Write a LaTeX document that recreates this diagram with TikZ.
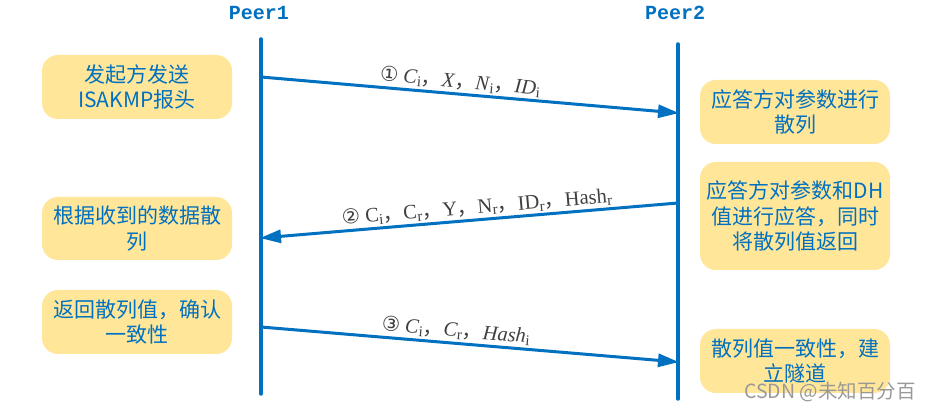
\documentclass[tikz,border=0pt]{standalone}
\usepackage{fontspec}
\setmainfont{Liberation Serif}
\newfontfamily\cjk{Noto Sans CJK SC}
\newfontfamily\dv{DejaVu Sans}
\newfontfamily\monob{Liberation Mono}
\usetikzlibrary{arrows.meta}
\definecolor{lblue}{RGB}{0,112,192}
\definecolor{byellow}{RGB}{255,230,153}
\definecolor{lgray}{RGB}{64,64,64}
\newcommand{\sbi}[1]{\raisebox{-0.3ex}{\fontsize{15}{15}\selectfont\upshape #1}}
\newcommand{\cm}{{\cjk ，}}
\begin{document}
\begin{tikzpicture}[x=1pt,y=-1pt,
  box/.style={fill=byellow, rounded corners=16pt, minimum width=190pt, align=center,
    text=lblue, font=\cjk\fontsize{21}{25.5}\selectfont, inner sep=0pt},
  life/.style={draw=lblue, line width=3.5pt, line cap=round},
  msg/.style={draw=lblue, line width=3pt, -{Triangle[length=21pt,width=13pt]}, shorten >=-1pt},
  lbl/.style={text=lgray, font=\fontsize{20.5}{22}\selectfont, sloped, above, inner sep=2pt},
  peer/.style={text=lblue, font=\monob\bfseries\fontsize{20}{22}\selectfont}]
\useasboundingbox (0,0) rectangle (932,411);
\fill[white] (0,0) rectangle (932,411);
% peers
\node[peer] (peer1) at (259,13) {Peer1};
\node[peer] (peer2) at (675,13) {Peer2};
\coordinate (p1t) at (261,39);
\coordinate (p1b) at (261,394);
\coordinate (p2t) at (678,44);
\coordinate (p2b) at (678,399);
\draw[life] (p1t) -- (p1b);
\draw[life] (p2t) -- (p2b);
% boxes
\node[box, minimum height=64pt] (l1) at (137,87) {发起方发送\\ISAKMP报头};
\node[box, minimum height=63pt] (l2) at (137,228.5) {根据收到的数据散\\列};
\node[box, minimum height=64pt] (l3) at (137,322) {返回散列值，确认\\一致性};
\node[box, minimum height=64pt] (r1) at (795,112) {应答方对参数进行\\散列};
\node[box, minimum height=108pt] (r2) at (795,216) {应答方对参数和DH\\值进行应答，同时\\将散列值返回};
\node[box, minimum height=64pt] (r3) at (795,361) {散列值一致性，建\\立隧道};
% messages
\coordinate (m1s) at (261,77);
\coordinate (m1e) at (678,113);
\coordinate (m2s) at (678,203);
\coordinate (m2e) at (261,238);
\coordinate (m3s) at (261,327);
\coordinate (m3e) at (678,362);
\draw[msg] (m1s) -- node[lbl, pos=0.475] {{\dv ①} \textit{C}\sbi{i}\cm\textit{X}\cm\textit{N}\sbi{i}\cm\textit{ID}\sbi{i}} (m1e);
\draw[msg] (m2s) -- node[lbl, pos=0.48, allow upside down=false] {{\dv ②} C\sbi{i}\cm C\sbi{r}\cm Y\cm N\sbi{r}\cm ID\sbi{r}\cm Hash\sbi{r}} (m2e);
\draw[msg] (m3s) -- node[lbl, pos=0.465] {{\dv ③} \textit{C}\sbi{i}\cm\textit{C}\sbi{r}\cm\textit{Hash}\sbi{i}} (m3e);
% watermark
\node[text=gray!80, font=\cjk\fontsize{19.5}{21}\selectfont] (wm) at (830,392) {CSDN @未知百分百};
\end{tikzpicture}
\end{document}
